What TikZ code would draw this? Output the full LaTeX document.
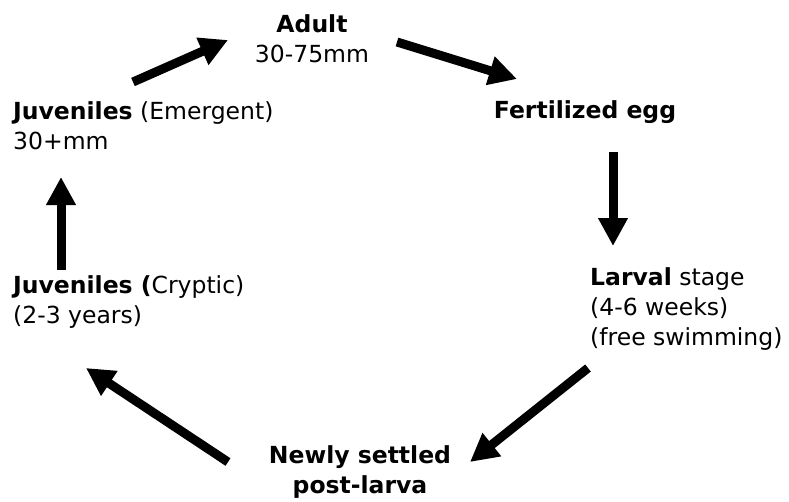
\documentclass[tikz,border=0pt]{standalone}
\usepackage{fontspec}
\setmainfont{DejaVu Sans}
\usetikzlibrary{arrows.meta}

\begin{document}
\begin{tikzpicture}[x=1pt,y=-1pt]

\tikzstyle{stage} = [inner sep=0pt, font=\fontsize{23.5}{30}\selectfont]
\tikzstyle{arrow} = [line width=9pt, -{Triangle[length=28pt,width=28pt]}]

\useasboundingbox (0,0) rectangle (789,501);

% Nodes
\node (adult) [stage, anchor=north, align=center] at (312,14) {\textbf{Adult}\\30-75mm};
\node (egg) [stage, anchor=north] at (585,100) {\textbf{Fertilized egg}};
\node (larval) [stage, anchor=north west, align=left] at (590,267) {\textbf{Larval} stage\\(4-6 weeks)\\(free swimming)};
\node (settled) [stage, anchor=north, align=center] at (360,445) {\textbf{Newly settled}\\\textbf{post-larva}};
\node (cryptic) [stage, anchor=north west, align=left] at (13,275) {\textbf{Juveniles (}Cryptic)\\(2-3 years)};
\node (emergent) [stage, anchor=north west, align=left] at (13,101) {\textbf{Juveniles} (Emergent)\\30+mm};

% Arrows
\draw [arrow] ([shift={(120,-19)}]emergent.north west) -- ([shift={(-84,26)}]adult.north);
\draw [arrow] ([shift={(85,28)}]adult.north) -- ([shift={(-68,-21)}]egg.north);
\draw [arrow] ([shift={(28,52)}]egg.north) -- ([shift={(23,-21)}]larval.north west);
\draw [arrow] ([shift={(-2,101)}]larval.north west) -- ([shift={(110,17)}]settled.north);
\draw [arrow] ([shift={(-132,17)}]settled.north) -- ([shift={(73,93)}]cryptic.north west);
\draw [arrow] ([shift={(48,-5)}]cryptic.north west) -- ([shift={(48,76)}]emergent.north west);

\end{tikzpicture}
\end{document}
